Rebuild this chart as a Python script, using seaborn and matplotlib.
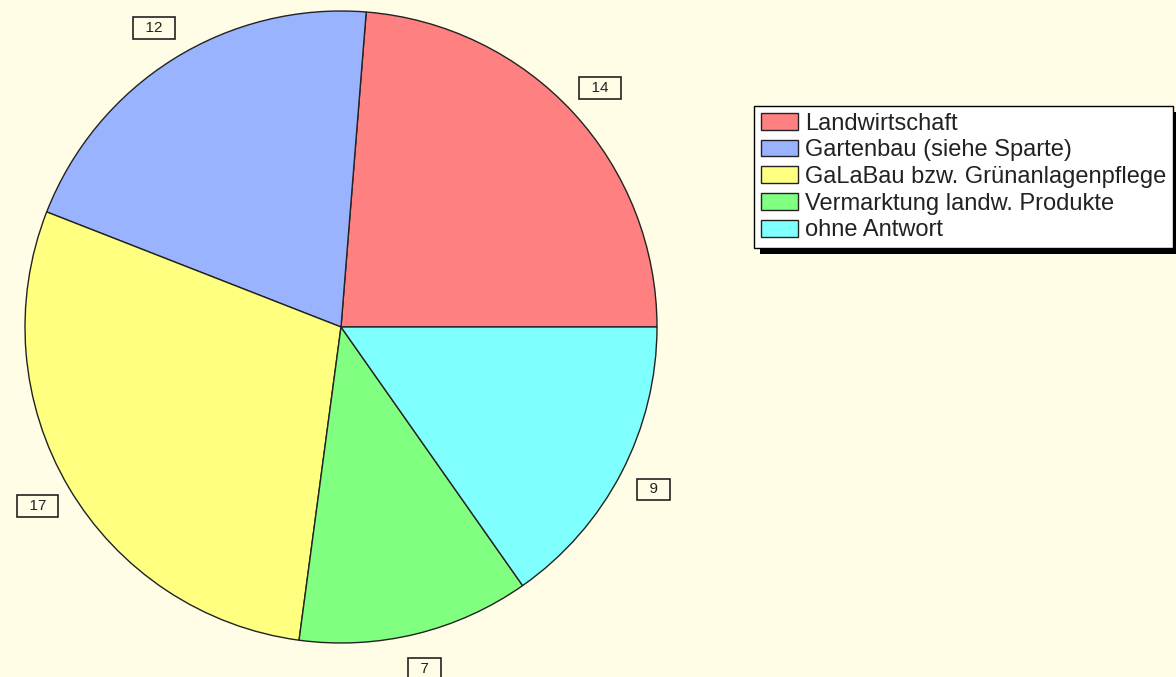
import matplotlib
matplotlib.use("Agg")
import matplotlib.pyplot as plt
from matplotlib.patches import Rectangle
import seaborn as sns

# data
categories = ["Landwirtschaft", "Gartenbau (siehe Sparte)", "GaLaBau bzw. Grünanlagenpflege",
              "Vermarktung landw. Produkte", "ohne Antwort"]
counts = [14, 12, 17, 7, 9]
slice_colors = ["#FF8080", "#99B3FF", "#FFFF80", "#80FF80", "#80FFFF"]

sns.set_style("white")
plt.rcParams['font.family'] = ['Liberation Sans', 'DejaVu Sans']
palette = sns.color_palette(slice_colors)

bg = "#FFFDE6"
fig = plt.figure(figsize=(11.76, 6.77), dpi=100, facecolor=bg)

# square axes in pixels, pie centre at (341, 327 from top), radius 316 px
half = 340
ax = fig.add_axes([(341 - half) / 1176, (350 - half) / 677, 2 * half / 1176, 2 * half / 677])
ax.set_facecolor(bg)

wedges, texts = ax.pie(counts, labels=[str(c) for c in counts], colors=palette,
                       startangle=0, counterclock=True, labeldistance=1.115,
                       wedgeprops=dict(edgecolor="#222222", linewidth=1.0),
                       textprops=dict(fontsize=11, color="#222222"))
for t in texts:
    t.set_text("  " + t.get_text() + "  ")
    t.set_ha("center")
    t.set_va("center")
    t.set_bbox(dict(boxstyle="square,pad=0.25", facecolor=bg, edgecolor="#222222", linewidth=1.2))

lim = half / 316
ax.set_xlim(-lim, lim)
ax.set_ylim(-lim, lim)
ax.axis("off")

leg = fig.legend(wedges, categories, loc="upper left",
                 bbox_to_anchor=(754 / 1176, 1 - 106 / 677), borderaxespad=0,
                 fontsize=17, frameon=True, fancybox=False, framealpha=1,
                 facecolor="white", edgecolor="black", handlelength=1.6,
                 handleheight=0.72, handletextpad=0.3, labelspacing=0.2,
                 borderpad=0.28)
leg.get_frame().set_linewidth(1.0)
for txt in leg.get_texts():
    txt.set_color("#222222")

# hard black drop shadow under the legend
fig.canvas.draw()
bb = leg.get_window_extent().transformed(fig.transFigure.inverted())
dx, dy = 6 / 1176, 6 / 677
shadow = Rectangle((bb.x0 + dx, bb.y0 - dy), bb.width + 0.02, bb.height,
                   transform=fig.transFigure, facecolor="black", edgecolor="none",
                   zorder=leg.get_zorder() - 0.5)
fig.add_artist(shadow)

fig.savefig("out.png", dpi=100, facecolor=bg)
